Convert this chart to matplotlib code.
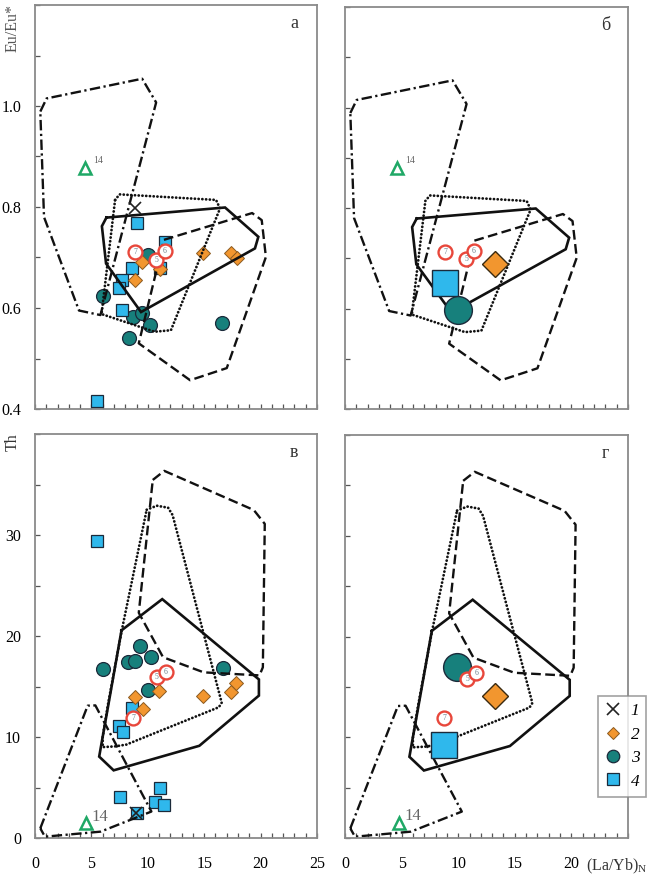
import matplotlib
matplotlib.use('Agg')
import matplotlib.pyplot as plt
from matplotlib.ticker import MultipleLocator, FuncFormatter
from matplotlib.lines import Line2D

plt.rcParams['font.family'] = ['Liberation Serif', 'DejaVu Serif']
plt.rcParams['mathtext.fontset'] = 'stix'
plt.rcParams['lines.scale_dashes'] = False

# ---------------- data: Eu/Eu* vs (La/Yb)N (panels а, б) ----------------
g1_eu_x = [8.85]
g1_eu_y = [0.798]
g2_eu_x = [9.46, 8.87, 11.08, 14.9, 17.4, 17.9]
g2_eu_y = [0.692, 0.655, 0.677, 0.709, 0.709, 0.699]
g3_eu_x = [10.05, 6.0, 8.72, 9.46, 10.2, 8.3, 16.6]
g3_eu_y = [0.705, 0.624, 0.583, 0.590, 0.566, 0.540, 0.571]
g4_eu_x = [9.0, 11.5, 11.1, 8.57, 7.68, 7.48, 7.68, 5.5]
g4_eu_y = [0.768, 0.731, 0.680, 0.679, 0.655, 0.639, 0.596, 0.415]
ref_eu_x = [8.87, 10.73, 11.52]
ref_eu_y = [0.711, 0.695, 0.713]
ref_labels = ['7', '5', '6']
tri_eu_x = [4.45]
tri_eu_y = [0.877]
avg_eu_x = {'2': 13.25, '3': 9.97, '4': 8.83}
avg_eu_y = {'2': 0.689, '3': 0.598, '4': 0.650}
avg_ref_eu_x = [8.83, 10.7, 11.4]
avg_ref_eu_y = [0.713, 0.699, 0.715]
avg_tri_eu_x = [4.6]
avg_tri_eu_y = [0.879]

# fields (Eu/Eu*)
f_dd_eu_x = [0.47, 1.03, 9.5, 10.74, 5.8, 3.9, 0.8, 0.47]
f_dd_eu_y = [0.989, 1.015, 1.054, 1.007, 0.586, 0.595, 0.78, 0.989]
f_dot_eu_x = [7.1, 7.5, 16.05, 16.4, 12.05, 10.6, 5.9, 7.1]
f_dot_eu_y = [0.814, 0.825, 0.814, 0.797, 0.556, 0.553, 0.588, 0.814]
f_sol_eu_x = [6.33, 16.85, 19.8, 19.5, 9.8, 9.4, 6.3, 5.93, 6.33]
f_sol_eu_y = [0.779, 0.799, 0.741, 0.718, 0.597, 0.592, 0.688, 0.762, 0.779]
f_dash_eu_x = [11.43, 19.25, 20.1, 20.47, 17.0, 13.75, 9.2, 11.43]
f_dash_eu_y = [0.735, 0.788, 0.774, 0.701, 0.481, 0.457, 0.530, 0.735]

# ---------------- data: Th vs (La/Yb)N (panels в, г) ----------------
g1_th_x = [8.95]
g1_th_y = [2.5]
g2_th_x = [8.87, 9.54, 11.0, 14.92, 17.4, 17.8]
g2_th_y = [13.96, 12.8, 14.6, 14.1, 14.46, 15.35]
g3_th_x = [6.06, 8.27, 8.87, 9.3, 10.3, 10.05, 16.7]
g3_th_y = [16.7, 17.4, 17.55, 19.0, 17.9, 14.7, 16.8]
g4_th_x = [5.5, 8.57, 7.48, 7.77, 7.54, 11.08, 10.64, 11.44, 9.07]
g4_th_y = [29.4, 12.9, 11.07, 10.48, 4.1, 4.94, 3.6, 3.28, 2.52]
ref_th_x = [8.7, 10.8, 11.6]
ref_th_y = [11.9, 15.9, 16.4]
tri_th_x = [4.52]
tri_th_y = [1.46]
avg_th_x = {'2': 13.25, '3': 9.9, '4': 8.75}
avg_th_y = {'2': 14.1, '3': 17.0, '4': 9.2}
avg_ref_th_x = [8.75, 10.8, 11.6]
avg_ref_th_y = [11.9, 15.8, 16.4]
avg_tri_th_x = [4.75]
avg_tri_th_y = [1.5]

# fields (Th)
f_dd_th_x = [0.47, 4.67, 5.35, 10.32, 5.82, 0.88, 0.47]
f_dd_th_y = [0.96, 13.1, 13.13, 2.62, 0.63, 0.13, 0.96]
f_dot_th_x = [9.9, 10.8, 11.8, 12.2, 16.55, 16.3, 8.1, 7.1, 6.0, 6.0, 6.45, 7.7, 9.9]
f_dot_th_y = [32.5, 32.9, 32.7, 31.97, 13.4, 12.95, 9.25, 9.07, 9.0, 10.0, 13.1, 20.6, 32.5]
f_sol_th_x = [7.67, 11.28, 19.85, 19.85, 14.57, 6.97, 5.69, 7.67]
f_sol_th_y = [20.56, 23.65, 15.7, 14.1, 9.13, 6.7, 8.06, 20.56]
f_dash_th_x = [10.44, 11.46, 19.4, 20.37, 20.2, 19.9, 14.96, 11.35, 9.2, 10.44]
f_dash_th_y = [35.45, 36.35, 32.47, 31.1, 16.9, 16.1, 16.4, 17.9, 22.3, 35.45]

x_ticklabels = ['0', '5', '10', '15', '20', '25']
legend_labels = ['1', '2', '3', '4']
panel_letters = ['а', 'б', 'в', 'г']

# ---------------- styles ----------------
C_TEAL = '#17807c'
C_ORANGE = '#f2962f'
C_BLUE = '#2fb8ec'
C_RED = '#e8473b'
C_GREEN = '#1fa866'
C_EDGE = '#1b2a3a'
C_SPINE = '#8a8a8a'

LS_SOLID = '-'
LS_DASH = (0, (7, 3.2))
LS_DOT = (0, (0.1, 2.6))
LS_DD = (0, (7.5, 2.5, 1.6, 2.5))

W, H = 651, 876
fig = plt.figure(figsize=(W / 100, H / 100), dpi=100)


def ax_at(l, t, r, b):
    return fig.add_axes([l / W, 1 - b / H, (r - l) / W, (b - t) / H])


ax_a = ax_at(35, 5, 317, 409)
ax_b = ax_at(345, 7, 628, 409)
ax_v = ax_at(35, 434, 317, 838)
ax_g = ax_at(345, 435, 628, 838)


def style(ax, ylim, ystep, ylab_every, show_y, show_x, last_label=True):
    ax.set_xlim(0, 25)
    ax.set_ylim(*ylim)
    for s in ax.spines.values():
        s.set_color(C_SPINE)
        s.set_linewidth(1.3)
    ax.xaxis.set_major_locator(MultipleLocator(1))
    ax.yaxis.set_major_locator(MultipleLocator(ystep))
    ax.tick_params(axis='both', direction='in', length=3.5, width=0.9,
                   color='#555555', top=False, right=False, labelsize=11.5)
    ax.tick_params(axis='x', pad=13)
    ax.tick_params(axis='y', pad=10)
    if show_x:
        lim = len(x_ticklabels) if last_label else len(x_ticklabels) - 1

        def xfmt(v, p):
            r = int(round(v))
            if abs(v - r) < 1e-6 and r % 5 == 0 and r // 5 < lim:
                return x_ticklabels[r // 5]
            return ''
        ax.xaxis.set_major_formatter(FuncFormatter(xfmt))
    else:
        ax.set_xticklabels([])
    if show_y:
        def fmt(v, p):
            k = round((v - ylim[0]) / ystep)
            if k % ylab_every == 0 and v < ylim[1] - 1e-9:
                return ('%.1f' % v) if ystep < 1 else '%d' % round(v)
            return ''
        ax.yaxis.set_major_formatter(FuncFormatter(fmt))
    else:
        ax.set_yticklabels([])


style(ax_a, (0.4, 1.2), 0.1, 2, True, False)
style(ax_b, (0.4, 1.2), 0.1, 2, False, False)
style(ax_v, (0, 40), 5, 2, True, True)
style(ax_g, (0, 40), 5, 2, False, True, last_label=False)


def fields(ax, dd, dot, sol, dash, z):
    ax.plot(*dd, color='#111111', lw=1.7, ls=LS_DD, zorder=z)
    ax.plot(*dot, color='#111111', lw=2.0, ls=LS_DOT, dash_capstyle='round', zorder=z)
    ax.plot(*sol, color='#111111', lw=1.9, ls=LS_SOLID, zorder=z, solid_joinstyle='miter')
    ax.plot(*dash, color='#111111', lw=1.7, ls=LS_DASH, zorder=z)


fields(ax_a, (f_dd_eu_x, f_dd_eu_y), (f_dot_eu_x, f_dot_eu_y),
       (f_sol_eu_x, f_sol_eu_y), (f_dash_eu_x, f_dash_eu_y), 4)
fields(ax_b, (f_dd_eu_x, f_dd_eu_y), (f_dot_eu_x, f_dot_eu_y),
       (f_sol_eu_x, f_sol_eu_y), (f_dash_eu_x, f_dash_eu_y), 2)
fields(ax_v, (f_dd_th_x, f_dd_th_y), (f_dot_th_x, f_dot_th_y),
       (f_sol_th_x, f_sol_th_y), (f_dash_th_x, f_dash_th_y), 4)
fields(ax_g, (f_dd_th_x, f_dd_th_y), (f_dot_th_x, f_dot_th_y),
       (f_sol_th_x, f_sol_th_y), (f_dash_th_x, f_dash_th_y), 2)


def ref_circles(ax, xs, ys, size, z):
    ax.plot(xs, ys, 'o', ms=size, mfc='white', mec=C_RED, mew=1.7, ls='none', zorder=z)
    for x, y, t in zip(xs, ys, ref_labels):
        ax.annotate(t, (x, y), ha='center', va='center', fontsize=5.5,
                    color='#6a7f8a', zorder=z + 0.1)


def tri_label(ax, tri, sup):
    ax.plot(*tri, '^', ms=9, mfc='white', mec=C_GREEN, mew=1.8, ls='none', zorder=5)
    for x, y in zip(*tri):
        if sup:
            ax.annotate('14', (x, y), xytext=(6, 4), textcoords='offset points',
                        fontsize=7, color='#666666')
        else:
            ax.annotate('14', (x, y), xytext=(4, -1), textcoords='offset points',
                        fontsize=12, color='#666666', va='bottom')


def small(ax, g1, g2, g3, g4, ref, tri, sup):
    ax.plot(*g3, 'o', ms=10, mfc=C_TEAL, mec=C_EDGE, mew=0.9, ls='none', zorder=3)
    ax.plot(*g4, 's', ms=9.3, mfc=C_BLUE, mec=C_EDGE, mew=0.9, ls='none', zorder=3.2)
    ax.plot(*g2, 'D', ms=7.3, mfc=C_ORANGE, mec='#8a5a20', mew=0.7, ls='none', zorder=3.4)
    ax.plot(*g1, 'x', ms=8, mec='#222222', mew=1.2, ls='none', zorder=5)
    ref_circles(ax, ref[0], ref[1], 10, 5)
    tri_label(ax, tri, sup)


def large(ax, ax_x, ax_y, ref, tri, sup):
    ax.plot([ax_x['3']], [ax_y['3']], 'o', ms=20, mfc=C_TEAL, mec=C_EDGE, mew=1.0, zorder=6)
    ax.plot([ax_x['4']], [ax_y['4']], 's', ms=19, mfc=C_BLUE, mec=C_EDGE, mew=1.0, zorder=5.5)
    ax.plot([ax_x['2']], [ax_y['2']], 'D', ms=13.5, mfc=C_ORANGE, mec='#3a2a10', mew=1.0, zorder=6)
    ref_circles(ax, ref[0], ref[1], 10, 6.5)
    tri_label(ax, tri, sup)


small(ax_a, (g1_eu_x, g1_eu_y), (g2_eu_x, g2_eu_y), (g3_eu_x, g3_eu_y),
      (g4_eu_x, g4_eu_y), (ref_eu_x, ref_eu_y), (tri_eu_x, tri_eu_y), True)
small(ax_v, (g1_th_x, g1_th_y), (g2_th_x, g2_th_y), (g3_th_x, g3_th_y),
      (g4_th_x, g4_th_y), (ref_th_x, ref_th_y), (tri_th_x, tri_th_y), False)
large(ax_b, avg_eu_x, avg_eu_y, (avg_ref_eu_x, avg_ref_eu_y),
      (avg_tri_eu_x, avg_tri_eu_y), True)
large(ax_g, avg_th_x, avg_th_y, (avg_ref_th_x, avg_ref_th_y),
      (avg_tri_th_x, avg_tri_th_y), False)

# panel letters
for ax, letter in zip([ax_a, ax_b, ax_v, ax_g], panel_letters):
    ax.text(0.92, 0.955, letter, transform=ax.transAxes, ha='center', va='center',
            fontsize=13, color='#333333')

# axis titles
fig.text(13 / W, 1 - 28 / H, 'Eu/Eu*', rotation=90, ha='center', va='center',
         fontsize=11.5, color='#555555')
fig.text(13 / W, 1 - 442 / H, 'Th', rotation=90, ha='center', va='center',
         fontsize=11.5, color='#333333')
fig.text(617 / W, 1 - 866 / H, '(La/Yb)$_{\\mathregular{N}}$', ha='center', va='center',
         fontsize=11.5, color='#333333')

# legend
handles = [
    Line2D([], [], marker='x', ls='none', ms=8, mec='#222222', mew=1.2),
    Line2D([], [], marker='D', ls='none', ms=6, mfc=C_ORANGE, mec='#8a5a20', mew=0.7),
    Line2D([], [], marker='o', ls='none', ms=9, mfc=C_TEAL, mec=C_EDGE, mew=0.9),
    Line2D([], [], marker='s', ls='none', ms=8.5, mfc=C_BLUE, mec=C_EDGE, mew=0.9),
]
leg = ax_g.legend(handles, legend_labels, loc='upper left', bbox_to_anchor=(0.893, 0.352),
                  borderaxespad=0, frameon=True, fancybox=False, handlelength=1.0,
                  handletextpad=0.5, labelspacing=0.42, borderpad=0.4,
                  prop={'style': 'italic', 'size': 12.5})
leg.get_frame().set_edgecolor(C_SPINE)
leg.get_frame().set_linewidth(1.2)
leg.set_zorder(10)

fig.savefig('out.png', dpi=100)
